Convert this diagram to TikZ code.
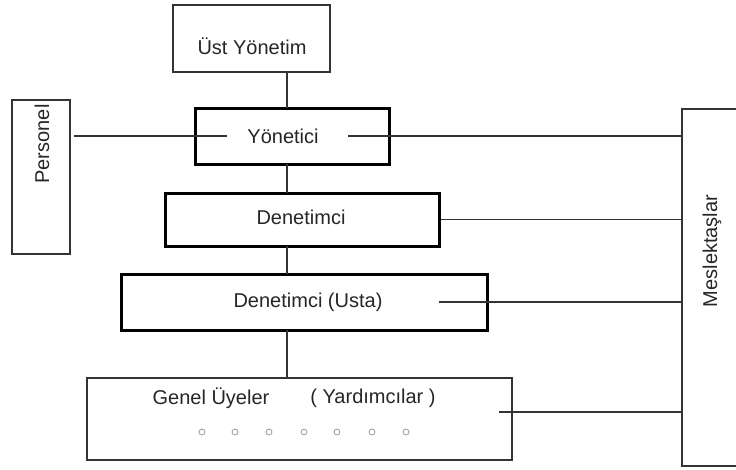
\documentclass[tikz,border=0pt]{standalone}
\usepackage{fontspec}
\setmainfont{Liberation Sans}
\begin{document}
\begin{tikzpicture}[x=1pt,y=-1pt,
  every node/.style={font=\fontsize{20}{24}\selectfont, text=black!85},
  thinbox/.style={draw=black!80, line width=1.4pt, fill=white, inner sep=0pt},
  thickbox/.style={draw=black, line width=3pt, fill=white, inner sep=0pt},
  link/.style={draw=black!80, line width=1.4pt},
  dot/.style={circle, draw=black!40, line width=0.8pt, minimum size=6pt, inner sep=0pt}]
\useasboundingbox (0,0) rectangle (736,469);

% side boxes
\node[thinbox, minimum width=58pt, minimum height=154pt] (pers) at (41,177) {};
\node[rotate=90] (perslbl) at (42,144) {Personel};
\node[thinbox, minimum width=70pt, minimum height=357pt] (mes) at (717,287.5) {};
\node[rotate=90] (meslbl) at (712,251) {Meslektaşlar};

% hierarchy boxes
\node[thinbox, minimum width=157pt, minimum height=67pt] (ust) at (251.5,38.5) {};
\node (ustlbl) at (252,46) {Üst Yönetim};
\node[thickbox, minimum width=194pt, minimum height=56pt] (yon) at (292,136) {};
\node[thickbox, minimum width=274pt, minimum height=53pt] (den) at (302,219.5) {};
\node[thickbox, minimum width=366pt, minimum height=56pt] (usta) at (304,302) {};
\node[thinbox, minimum width=425pt, minimum height=82pt] (gen) at (299.5,419) {};

% vertical chain
\draw[link] (287,72) -- (287,108);
\draw[link] (287,164) -- (287,193);
\draw[link] (287,246) -- (287,274);
\draw[link] (287,330) -- (287,378);

% horizontal links, each starting beside its label
\coordinate (persR) at (74,136);
\coordinate (yonL) at (227,136);
\coordinate (yonR) at (348,136);
\coordinate (mes1) at (mes.west |- yonR);
\coordinate (denR) at (den.east);
\coordinate (mes2) at (mes.west |- denR);
\coordinate (ustaR) at (439,302);
\coordinate (mes3) at (mes.west |- ustaR);
\coordinate (genR) at (499,412);
\coordinate (mes4) at (mes.west |- genR);
\draw[link] (persR) -- (yonL);
\draw[link] (yonR) -- (mes1);
\draw[link] (denR) -- (mes2);
\draw[link] (ustaR) -- (mes3);
\draw[link] (genR) -- (mes4);

% labels inside the boxes
\node (yonlbl) at (283,136) {Yönetici};
\node (denlbl) at (301,217) {Denetimci};
\node (ustalbl) at (308,302) {Denetimci (Usta)};
\node (genlbl1) at (211,398) {Genel Üyeler};
\node (genlbl2) at (373,398) {( Yardımcılar )};

% member dots
\foreach \x [count=\i] in {202,235,269,304,337,372,406}
  \node[dot] (m\i) at (\x,432) {};
\end{tikzpicture}
\end{document}
